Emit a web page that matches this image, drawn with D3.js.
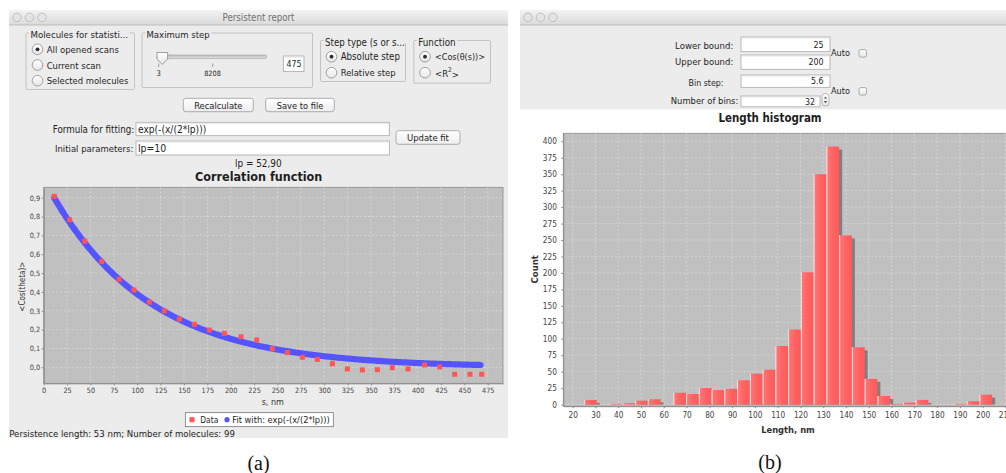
<!DOCTYPE html>
<html>
<head>
<meta charset="utf-8">
<script src="https://cdn.jsdelivr.net/npm/d3@7"></script>
<style>
  body { margin: 0; background: #ffffff; }
  svg { display: block; }
</style>
</head>
<body>
<svg id="fig" width="1006" height="473"></svg>
<script>
// ---------- data: correlation function ----------
const corrS = [11.3, 27.8, 43.9, 62.1, 80.6, 96.6, 113.0, 129.0, 145.1, 161.1, 177.2, 193.2, 211.1, 227.8,
               244.6, 260.6, 276.7, 292.7, 308.8, 324.8, 340.9, 356.9, 372.9, 389.7, 407.5, 423.6, 439.6, 456.0, 468.5];
const corrValues = [0.907, 0.783, 0.669, 0.562, 0.467, 0.410, 0.346, 0.299, 0.256, 0.228, 0.198, 0.180, 0.162, 0.145,
                    0.099, 0.078, 0.053, 0.042, 0.019, -0.009, -0.014, -0.013, -0.002, -0.009, 0.012, 0.002, -0.037, -0.037, -0.037];
const fitLp = 52.90;                       // fitted persistence parameter, model exp(-(x/(2*lp)))
const corrXTicks = [0, 25, 50, 75, 100, 125, 150, 175, 200, 225, 250, 275, 300, 325, 350, 375, 400, 425, 450, 475];
const corrYTicks = [0.0, 0.1, 0.2, 0.3, 0.4, 0.5, 0.6, 0.7, 0.8, 0.9];

// ---------- data: length histogram ----------
const binLower = 25;
const binStep = 5.6;
const binCounts = [7, 0, 1, 2, 6, 8, 0, 18, 16, 25, 22, 24, 37, 47, 53, 89,
                   114, 201, 350, 392, 257, 87, 39, 13, 1, 3, 7, 0, 0, 1, 5, 15];
const histXTicks = [20, 30, 40, 50, 60, 70, 80, 90, 100, 110, 120, 130, 140, 150, 160, 170, 180, 190, 200, 210];
const histYTicks = [0, 25, 50, 75, 100, 125, 150, 175, 200, 225, 250, 275, 300, 325, 350, 375, 400];

// ---------- helpers ----------
const UI = "'DejaVu Sans Condensed','DejaVu Sans',sans-serif";
const svg = d3.select("#fig");
const defs = svg.append("defs");

function grad(id, stops, horizontal) {
  const g = defs.append("linearGradient").attr("id", id)
    .attr("x1", 0).attr("y1", 0).attr("x2", horizontal ? 1 : 0).attr("y2", horizontal ? 0 : 1);
  stops.forEach(([o, c]) => g.append("stop").attr("offset", o).attr("stop-color", c));
}
grad("titlebar", [[0, "#f3f3f3"], [1, "#dadada"]]);
grad("button", [[0, "#ffffff"], [1, "#ededed"]]);
grad("radio", [[0, "#ffffff"], [1, "#e6e6e6"]]);
grad("track", [[0, "#bdbdbd"], [1, "#e0e0e0"]]);
grad("bar", [[0, "#ffb8b8"], [0.1, "#ff7474"], [0.55, "#ff6262"], [1, "#ff5a5a"]], true);

function text(parent, x, y, s, o = {}) {
  const size = o.size || 9.5;
  const t = parent.append("text")
    .attr("x", x).attr("y", y)
    .attr("font-family", o.family || UI)
    .attr("font-size", size)
    .attr("font-weight", o.weight || "normal")
    .attr("fill", o.fill || "#1e1e1e")
    .attr("text-anchor", o.anchor || "start")
    .attr("dominant-baseline", "central")
    .text(s);
  if (o.fit) {
    const w = t.node().getComputedTextLength();
    if (w > 0) t.attr("font-size", size * o.fit / w);
  }
  return t;
}

function windowFrame(x, w, title) {
  const g = svg.append("g");
  g.append("rect").attr("x", x).attr("y", 10).attr("width", w).attr("height", 15).attr("fill", "url(#titlebar)");
  g.append("line").attr("x1", x).attr("x2", x + w).attr("y1", 25).attr("y2", 25).attr("stroke", "#b4b4b4").attr("stroke-width", 0.8);
  [8, 20.5, 33].forEach(dx => g.append("circle").attr("cx", x + dx).attr("cy", 17.3).attr("r", 4.3)
    .attr("fill", "#e4e4e4").attr("stroke", "#b0b0b0").attr("stroke-width", 0.7));
  if (title) text(g, x + w / 2, 17.6, title, { anchor: "middle", fill: "#707070", fit: 72 });
  return g;
}

function groupBox(x, y, w, h, title, titleWidth) {
  const g = svg.append("g");
  g.append("rect").attr("x", x + 0.5).attr("y", y + 0.5).attr("width", w).attr("height", h)
    .attr("fill", "none").attr("stroke", "#b9b9b9").attr("stroke-width", 0.8).attr("rx", 1);
  const t = text(g, x + 5, y + 2, title, { fit: titleWidth });
  const bb = t.node().getBBox();
  g.insert("rect", "text").attr("x", bb.x - 1.5).attr("y", y - 2).attr("width", bb.width + 3).attr("height", 5).attr("fill", "#ececec");
  return g;
}

function radio(g, cx, cy, selected) {
  g.append("circle").attr("cx", cx).attr("cy", cy).attr("r", 5.3)
    .attr("fill", "url(#radio)").attr("stroke", "#8d8d8d").attr("stroke-width", 0.8);
  if (selected) g.append("circle").attr("cx", cx).attr("cy", cy).attr("r", 1.9).attr("fill", "#2a2a2a");
}

function button(g, x, y, w, h, label, fitW) {
  g.append("rect").attr("x", x).attr("y", y).attr("width", w).attr("height", h).attr("rx", 2.5)
    .attr("fill", "url(#button)").attr("stroke", "#9b9b9b").attr("stroke-width", 0.8);
  text(g, x + w / 2, y + h / 2 + 0.3, label, { anchor: "middle", fit: fitW });
}

function field(g, x, y, w, h) {
  g.append("rect").attr("x", x).attr("y", y).attr("width", w).attr("height", h)
    .attr("fill", "#ffffff").attr("stroke", "#a9a9a9").attr("stroke-width", 0.8);
  g.append("line").attr("x1", x + 0.5).attr("x2", x + w - 0.5).attr("y1", y + 1).attr("y2", y + 1)
    .attr("stroke", "#dedede").attr("stroke-width", 0.8);
}

function checkbox(g, x, y) {
  g.append("rect").attr("x", x).attr("y", y).attr("width", 7.5).attr("height", 7.5).attr("rx", 1.8)
    .attr("fill", "url(#radio)").attr("stroke", "#999").attr("stroke-width", 0.8);
}

function styleAxis(sel, size) {
  sel.select(".domain").attr("stroke", "#8a8a8a").attr("stroke-width", 1);
  sel.selectAll(".tick line").attr("stroke", "#8a8a8a");
  sel.selectAll(".tick text").attr("fill", "#444").attr("font-family", UI).attr("font-size", size);
}

function grid(g, xs, ys, xScale, yScale, x0, x1, y0, y1) {
  const c = "#e2e2e2";
  xs.forEach(v => g.append("line").attr("x1", xScale(v)).attr("x2", xScale(v)).attr("y1", y0).attr("y2", y1)
    .attr("stroke", c).attr("stroke-width", 0.6).attr("stroke-dasharray", "2,2"));
  ys.forEach(v => g.append("line").attr("x1", x0).attr("x2", x1).attr("y1", yScale(v)).attr("y2", yScale(v))
    .attr("stroke", c).attr("stroke-width", 0.6).attr("stroke-dasharray", "2,2"));
}

// ================= left window: Persistent report =================
svg.append("rect").attr("x", 9).attr("y", 25).attr("width", 499).attr("height", 413).attr("fill", "#ececec");
windowFrame(9, 499, "Persistent report");

// option groups
const g1 = groupBox(25.5, 32.5, 108.5, 56.5, "Molecules for statisti...", 97.6);
radio(g1, 37.5, 49.3, true);  text(g1, 46.7, 49.5, "All opened scans", { fit: 72.3 });
radio(g1, 37.5, 65, false);   text(g1, 46.7, 65.2, "Current scan", { fit: 54.3 });
radio(g1, 37.5, 80.7, false); text(g1, 46.7, 80.9, "Selected molecules", { fit: 81.7 });

const g2 = groupBox(141.5, 32.5, 170.5, 54.5, "Maximum step", 63.3);
g2.append("rect").attr("x", 156.7).attr("y", 55).attr("width", 110).attr("height", 3.6).attr("rx", 1.8)
  .attr("fill", "url(#track)").attr("stroke", "#a3a3a3").attr("stroke-width", 0.6);
[158.7, 212.7].forEach(x => g2.append("line").attr("x1", x).attr("x2", x).attr("y1", 63.5).attr("y2", 67)
  .attr("stroke", "#8a8a8a").attr("stroke-width", 0.8));
g2.append("path").attr("d", "M157,52.5 L167.6,52.5 L167.6,59 L162.3,64.5 L157,59 Z")
  .attr("fill", "url(#radio)").attr("stroke", "#8a8a8a").attr("stroke-width", 0.8);
text(g2, 158.7, 73.5, "3", { anchor: "middle", size: 7.6 });
text(g2, 212.5, 73.5, "8208", { anchor: "middle", fit: 16.7 });
field(g2, 283.3, 56, 20.7, 15.5);
text(g2, 294, 63.9, "475", { anchor: "middle", fit: 15 });

const g3 = groupBox(320, 40, 85, 41, "Step type (s or s...", 80);
radio(g3, 331.5, 56.7, true);  text(g3, 340.7, 56.9, "Absolute step", { fit: 59.3 });
radio(g3, 331.5, 72.7, false); text(g3, 340.7, 72.9, "Relative step", { fit: 55 });

const g4 = groupBox(413.3, 40, 76.7, 42.7, "Function", 37.3);
radio(g4, 425, 56.7, true);  text(g4, 435, 56.9, "<Cos(θ(s))>", { fit: 50 });
radio(g4, 425, 72.7, false);
const r2 = text(g4, 435, 73.6, "<R", {});
r2.append("tspan").attr("dy", -3.5).attr("font-size", 6.5).text("2");
r2.append("tspan").attr("dy", 3.5).text(">");

// buttons and fields
const gc = svg.append("g");
button(gc, 183.3, 98.3, 70, 13.4, "Recalculate", 48.3);
button(gc, 265.7, 98.3, 68.6, 13.4, "Save to file", 46.7);
text(gc, 134.3, 129.2, "Formula for fitting:", { anchor: "end", fit: 81.7 });
field(gc, 136, 122.3, 253.3, 13.4);
text(gc, 138, 129.2, "exp(-(x/(2*lp)))", { fit: 68.3 });
text(gc, 133.3, 148.3, "Initial parameters:", { anchor: "end", fit: 78.3 });
field(gc, 136, 141, 253.3, 14);
text(gc, 138, 148.3, "lp=10", { fit: 28.3 });
button(gc, 396, 130.7, 64, 13.6, "Update fit", 42);
text(gc, 258.3, 163.5, "lp = 52,90", { anchor: "middle", fit: 46.7 });
text(gc, 258.7, 176.7, "Correlation function", { anchor: "middle", weight: "bold", size: 12.5, fit: 127.3 });

// correlation plot
const cp = { left: 43.7, right: 503, top: 187.3, bottom: 383.3 };
const cx = d3.scaleLinear().domain([0, 491.3]).range([cp.left, cp.right]);
const cy = d3.scaleLinear().domain([-0.085, 0.955]).range([cp.bottom, cp.top]);
const commaFmt = d3.formatLocale({ decimal: ",", thousands: ".", grouping: [3], currency: ["", ""] }).format(".1f");

defs.append("clipPath").attr("id", "corrClip").append("rect")
  .attr("x", cp.left).attr("y", cp.top).attr("width", cp.right - cp.left).attr("height", cp.bottom - cp.top);
const corr = svg.append("g");
corr.append("rect").attr("x", cp.left).attr("y", cp.top).attr("width", cp.right - cp.left).attr("height", cp.bottom - cp.top)
  .attr("fill", "#c0c0c0").attr("stroke", "#8a8a8a").attr("stroke-width", 0.8);
const corrPlot = corr.append("g").attr("clip-path", "url(#corrClip)");
grid(corrPlot, corrXTicks, corrYTicks, cx, cy, cp.left, cp.right, cp.top, cp.bottom);

// fitted model drawn as a dense band of markers
const fitS = d3.range(corrS[0], corrS[corrS.length - 1] + 0.001, 1.5);
const fitLine = d3.line().x(s => cx(s)).y(s => cy(Math.exp(-(s / (2 * fitLp)))));
corrPlot.append("path").attr("d", fitLine(fitS)).attr("fill", "none")
  .attr("stroke", "#5555ff").attr("stroke-width", 6.2).attr("stroke-linecap", "round").attr("stroke-linejoin", "round");

// measured correlation points
corrPlot.selectAll("rect.pt").data(corrS).enter().append("rect").attr("class", "pt")
  .attr("x", (s) => cx(s) - 2.5).attr("y", (s, i) => cy(corrValues[i]) - 2.5)
  .attr("width", 5).attr("height", 5).attr("fill", "#ff5555");

const cxAxis = corr.append("g").attr("transform", `translate(0,${cp.bottom})`)
  .call(d3.axisBottom(cx).tickValues(corrXTicks).tickSize(2).tickSizeOuter(0).tickPadding(2.6).tickFormat(d3.format("d")));
styleAxis(cxAxis, 7.3);
const cyAxis = corr.append("g").attr("transform", `translate(${cp.left},0)`)
  .call(d3.axisLeft(cy).tickValues(corrYTicks).tickSize(2).tickSizeOuter(0).tickPadding(1.6).tickFormat(commaFmt));
styleAxis(cyAxis, 7.3);

text(corr, 272.8, 401.7, "s, nm", { anchor: "middle", fit: 22.3, fill: "#333" });
text(corr, 0, 0, "<Cos(theta)>", { anchor: "middle", fit: 50, fill: "#333" })
  .attr("transform", "translate(22.7,286.7) rotate(-90)");

// legend
corr.append("rect").attr("x", 185.3).attr("y", 412.7).attr("width", 148).attr("height", 14)
  .attr("fill", "#ffffff").attr("stroke", "#666").attr("stroke-width", 0.7);
corr.append("rect").attr("x", 189.5).attr("y", 417.2).attr("width", 5).attr("height", 5).attr("fill", "#ff5555");
text(corr, 200.3, 419.8, "Data", { fit: 18 });
corr.append("circle").attr("cx", 227).attr("cy", 419.7).attr("r", 2.6).attr("fill", "#5555ff");
text(corr, 232.3, 419.8, "Fit with: exp(-(x/(2*lp)))", { fit: 97.7 });

text(svg, 9.3, 433.7, "Persistence length: 53 nm; Number of molecules: 99", { fit: 225.7 });

// ================= right window: Length histogram =================
svg.append("rect").attr("x", 520).attr("y", 25).attr("width", 486).attr("height", 84.3).attr("fill", "#ececec");
windowFrame(520, 486, null);

const gr = svg.append("g");
text(gr, 733.3, 45, "Lower bound:", { anchor: "end", fit: 58.3 });
field(gr, 741, 37, 89, 14.7);
text(gr, 823.5, 45, "25", { anchor: "end", size: 8.8 });
text(gr, 733.3, 61.9, "Upper bound:", { anchor: "end", fit: 58.3 });
field(gr, 741, 55, 89, 14.3);
text(gr, 823.5, 62, "200", { anchor: "end", size: 8.8 });
text(gr, 831, 52.8, "Auto", { fit: 19 });
checkbox(gr, 859, 49.6);

text(gr, 723.5, 82.8, "Bin step:", { anchor: "end", size: 8.8 });
field(gr, 741, 75, 89, 12.3);
text(gr, 823.5, 81.3, "5.6", { anchor: "end", size: 8.8 });
text(gr, 738.3, 100.2, "Number of bins:", { anchor: "end", fit: 67.6 });
field(gr, 741, 96, 79, 10.8);
text(gr, 815, 101.5, "32", { anchor: "end", size: 8.8 });
gr.append("rect").attr("x", 822).attr("y", 93.5).attr("width", 7).attr("height", 12.5).attr("rx", 3)
  .attr("fill", "url(#radio)").attr("stroke", "#a0a0a0").attr("stroke-width", 0.7);
gr.append("path").attr("d", "M823.9,98.6 L825.5,96.4 L827.1,98.6 Z M823.9,101 L825.5,103.2 L827.1,101 Z").attr("fill", "#555");
text(gr, 831, 91.2, "Auto", { fit: 19 });
checkbox(gr, 859, 87.6);

text(gr, 770, 118.3, "Length histogram", { anchor: "middle", weight: "bold", size: 12.5, fit: 103.3 });

// histogram plot
const hp = { left: 563.3, right: 1012, top: 133.3, bottom: 406.2 };
const hx = d3.scaleLinear().domain([15.87, 212.9]).range([hp.left, hp.right]);
const hy = d3.scaleLinear().domain([-2.5, 412.1]).range([hp.bottom, hp.top]);

const hist = svg.append("g");
hist.append("rect").attr("x", hp.left).attr("y", hp.top).attr("width", hp.right - hp.left).attr("height", hp.bottom - hp.top)
  .attr("fill", "#c0c0c0").attr("stroke", "#8a8a8a").attr("stroke-width", 0.8);
grid(hist, histXTicks, histYTicks, hx, hy, hp.left, hp.right, hp.top, hp.bottom);

const bins = binCounts.map((count, i) => ({ x0: binLower + i * binStep, x1: binLower + (i + 1) * binStep, count }))
  .filter(b => b.count > 0);

// bar shadows first, then the bars themselves
hist.selectAll("rect.shadow").data(bins).enter().append("rect").attr("class", "shadow")
  .attr("x", b => hx(b.x0) + 3)
  .attr("y", b => hy(b.count) + 3)
  .attr("width", b => hx(b.x1) - hx(b.x0))
  .attr("height", b => Math.max(0, hy(0) - hy(b.count) - 3))
  .attr("fill", "#7f7f7f");
hist.selectAll("rect.bar").data(bins).enter().append("rect").attr("class", "bar")
  .attr("x", b => hx(b.x0))
  .attr("y", b => hy(b.count))
  .attr("width", b => hx(b.x1) - hx(b.x0))
  .attr("height", b => hy(0) - hy(b.count))
  .attr("fill", "url(#bar)");
hist.selectAll("line.edge").data(bins).enter().append("line").attr("class", "edge")
  .attr("x1", b => hx(b.x0) + 0.5).attr("x2", b => hx(b.x0) + 0.5)
  .attr("y1", b => hy(b.count)).attr("y2", hy(0))
  .attr("stroke", "#ffe0e0").attr("stroke-width", 0.9);

const hxAxis = hist.append("g").attr("transform", `translate(0,${hp.bottom})`)
  .call(d3.axisBottom(hx).tickValues(histXTicks).tickSize(2).tickSizeOuter(0).tickPadding(4).tickFormat(d3.format("d")));
styleAxis(hxAxis, 8.2);
const hyAxis = hist.append("g").attr("transform", `translate(${hp.left},0)`)
  .call(d3.axisLeft(hy).tickValues(histYTicks).tickSize(2).tickSizeOuter(0).tickPadding(4.4).tickFormat(d3.format("d")));
styleAxis(hyAxis, 8.2);

text(hist, 788, 429.2, "Length, nm", { anchor: "middle", weight: "bold", fit: 53.7, fill: "#333" });
text(hist, 0, 0, "Count", { anchor: "middle", weight: "bold", fit: 28.3, fill: "#333" })
  .attr("transform", "translate(534,269.3) rotate(-90)");

// panel captions
const serif = "'Liberation Serif','DejaVu Serif',serif";
text(svg, 258.5, 463, "(a)", { anchor: "middle", family: serif, size: 20, fill: "#111" });
text(svg, 770, 462, "(b)", { anchor: "middle", family: serif, size: 20, fill: "#111" });
</script>
</body>
</html>
